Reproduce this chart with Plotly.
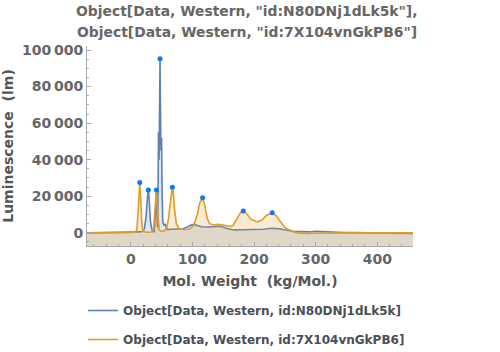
import plotly.graph_objects as go

# ---- data ----
blue_name = "Object[Data, Western, id:N80DNj1dLk5k]"
orange_name = "Object[Data, Western, id:7X104vnGkPB6]"

blue_x = [-71, -40, -10, -5, 0, 10, 18, 22, 25, 27, 28.6, 30, 32, 35, 38, 39.5, 41.5, 42.8,
          43.6, 44.5, 45, 46, 47, 47.5, 48, 49, 50, 51, 52, 54, 56, 58, 60, 65, 75, 85, 92,
          97, 102, 108, 115, 125, 135, 146, 155, 167, 180, 200, 215, 229, 240, 254, 265,
          280, 290, 300, 310, 320, 335, 345, 360, 400, 440, 452, 458]
blue_y = [0, 0, 100, 300, 400, 500, 600, 2000, 9000, 19000, 23500, 18000, 6000, 800, 600, 8000, 22000, 9000,
          3000, 30000, 55000, 40000, 80000, 95200, 75000, 45000, 52000, 20000, 6000, 4000, 4800, 2500, 1800, 2000, 2000, 2200, 3200,
          4200, 4600, 3800, 3300, 3200, 3300, 3600, 2500, 1600, 1700, 1800, 2000, 2500, 2200, 1400, 800,
          700, 500, 900, 700, 900, 600, 200, 100, 100, 0, -300, -400]

orange_x = [-71, -40, -10, 0, 8, 10, 12, 13.5, 14.6, 16, 18, 20, 25, 30, 34, 37, 39, 40.5, 41.6,
            43, 44.5, 46, 50, 54, 58, 61, 64, 66, 67.5, 69, 71, 74, 78, 85, 95, 102, 108, 112,
            116.6, 120, 124, 128, 135, 142, 150, 160, 166, 172, 178, 182.5, 188, 195, 205, 213,
            220, 229.5, 236, 243, 250, 258, 265, 272, 285, 300, 320, 360, 400, 440, 458]
orange_y = [0, 0, 0, 200, 500, 2000, 12000, 24000, 27600, 20000, 5000, 800, 300, 300, 500, 2000, 10000, 20000, 23500,
            15000, 4000, 1500, 800, 1000, 2500, 7000, 16000, 23000, 25000, 22000, 13000, 5000, 2500, 1800, 2000, 4000, 10000, 16500,
            19200, 15000, 8000, 5000, 4300, 4600, 4300, 3500, 4000, 7500, 11000, 12000, 10500, 7500, 6000, 7000,
            9500, 10950, 9500, 6000, 3000, 1500, 500, 0, -300, -200, 0, 0, 0, 0, 0]

peak_x = [14.6, 28.6, 41.6, 47.5, 67.5, 116.6, 182.5, 229.5]
peak_y = [27600, 23500, 23500, 95200, 25000, 19200, 12000, 10950]

x_ticks = [0, 100, 200, 300, 400]
y_ticks = [0, 20000, 40000, 60000, 80000, 100000]
y_tick_text = ["0", "20\u2009000", "40\u2009000", "60\u2009000", "80\u2009000", "100\u2009000"]

title_lines = ['Object[Data, Western, "id:N80DNj1dLk5k"],',
               'Object[Data, Western, "id:7X104vnGkPB6"]']
x_title = "Mol. Weight  (kg/Mol.)"
y_title = "Luminescence  (lm)"

# ---- styling ----
X_RANGE = [-71, 458]
Y_RANGE = [-7200, 102200]
BLUE = "#5E81B5"
ORANGE = "#E19C24"
FONT = "DejaVu Sans"
TXT = "#666666"

fig = go.Figure()

def add_series(xs, ys, color, fillcolor, name, group):
    # invisible baseline at plot bottom so the filling reaches the frame bottom
    fig.add_trace(go.Scatter(x=xs, y=[Y_RANGE[0]] * len(xs), mode="lines",
                             line=dict(width=0, color=color), showlegend=False,
                             hoverinfo="skip"))
    fig.add_trace(go.Scatter(x=xs, y=ys, mode="lines", name=name,
                             line=dict(color=color, width=1.6),
                             fill="tonexty", fillcolor=fillcolor,
                             showlegend=False))
    # legend entry (line only, like the reference)
    fig.add_trace(go.Scatter(x=[None], y=[None], mode="lines", name=name,
                             line=dict(color=color, width=1.6), legendgroup=group))

add_series(blue_x, blue_y, BLUE, "rgba(94,129,181,0.2)", blue_name, "a")
add_series(orange_x, orange_y, ORANGE, "rgba(225,156,36,0.2)", orange_name, "b")

fig.add_trace(go.Scatter(x=peak_x, y=peak_y, mode="markers",
                         marker=dict(color="#0A7BF5", size=5), showlegend=False,
                         hoverinfo="skip"))

axis_common = dict(showgrid=False, zeroline=False, showline=True, linecolor="#AAAAAA",
                   linewidth=1, ticks="inside", ticklen=4, tickcolor="#AAAAAA",
                   tickfont=dict(family=FONT, size=14, color=TXT, weight="bold"))

fig.update_layout(
    width=500, height=352,
    margin=dict(l=87, r=87, t=46, b=106, autoexpand=False),
    paper_bgcolor="white", plot_bgcolor="white",
    showlegend=True,
    xaxis=dict(range=X_RANGE, tickvals=x_ticks, ticktext=[str(v) for v in x_ticks],
               minor=dict(dtick=20, tick0=0, ticks="inside", ticklen=2, tickcolor="#AAAAAA"),
               title=dict(text=x_title, font=dict(family=FONT, size=14, color="#555555", weight="bold"),
                          standoff=10),
               **axis_common),
    yaxis=dict(range=Y_RANGE, tickvals=y_ticks, ticktext=y_tick_text,
               minor=dict(dtick=5000, tick0=0, ticks="inside", ticklen=2, tickcolor="#AAAAAA"),
               title=dict(text=y_title, font=dict(family=FONT, size=14, color="#555555", weight="bold"),
                          standoff=6),
               **axis_common),
    legend=dict(x=-0.012, y=-0.25, xanchor="left", yanchor="top",
                font=dict(family=FONT, size=12, color="#4A4F5A", weight="bold"),
                traceorder="grouped", tracegroupgap=10, bgcolor="rgba(0,0,0,0)"),
    hovermode=False,
)

for line, yp in zip(title_lines, [1.175, 1.07]):
    fig.add_annotation(text=line, xref="paper", yref="paper", x=0.49, y=yp,
                       xanchor="center", yanchor="middle", showarrow=False,
                       font=dict(family=FONT, size=13.9, color="#666666", weight="bold"))

fig.write_html("out.html")
